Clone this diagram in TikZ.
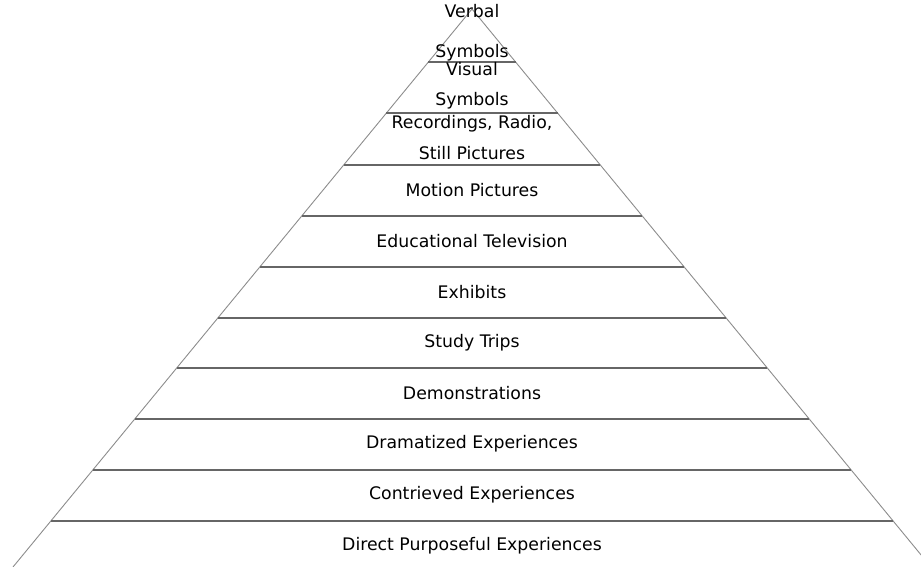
\documentclass[tikz,border=0pt]{standalone}
\usepackage{fontspec}
\setmainfont{DejaVu Sans}
\usetikzlibrary{calc}

\begin{document}
\begin{tikzpicture}[x=1pt,y=-1pt,
        edge/.style={draw=black!45,line width=0.9pt},
        rung/.style={draw=black!60,line width=1.1pt},
        level/.style={font=\fontsize{17.3}{21}\selectfont,align=center,inner sep=0pt}]
    \clip (0,0) rectangle (921,567);
    \coordinate (apex) at (472,9);
    \coordinate (bl) at (13,567);
    \coordinate (br) at (931,567);
    % sides
    \draw[edge] (bl) -- (apex) -- (br);
    % rungs
    \foreach \y in {62,113,165,216,267,318,368,419,470,521}
        \draw[rung] ($(apex)!{(\y-9)/558}!(bl)$) -- ($(apex)!{(\y-9)/558}!(br)$);
    % labels
    \node[level] (verbal) at (472,33) {Verbal\\[19pt]Symbols};
    \node[level] (visual) at (472,86) {Visual\\[9pt]Symbols};
    \node[level] (record) at (472,138) {Recordings, Radio,\\[10pt]Still Pictures};
    \node[level] (motion) at (472,190) {Motion Pictures};
    \node[level] (tv) at (472,241) {Educational Television};
    \node[level] (exhibit) at (472,292) {Exhibits};
    \node[level] (trip) at (472,343) {Study Trips};
    \node[level] (demo) at (472,393) {Demonstrations};
    \node[level] (drama) at (472,444) {Dramatized Experiences};
    \node[level] (contr) at (472,495) {Contrieved Experiences};
    \node[level] (direct) at (472,546) {Direct Purposeful Experiences};
\end{tikzpicture}
\end{document}
